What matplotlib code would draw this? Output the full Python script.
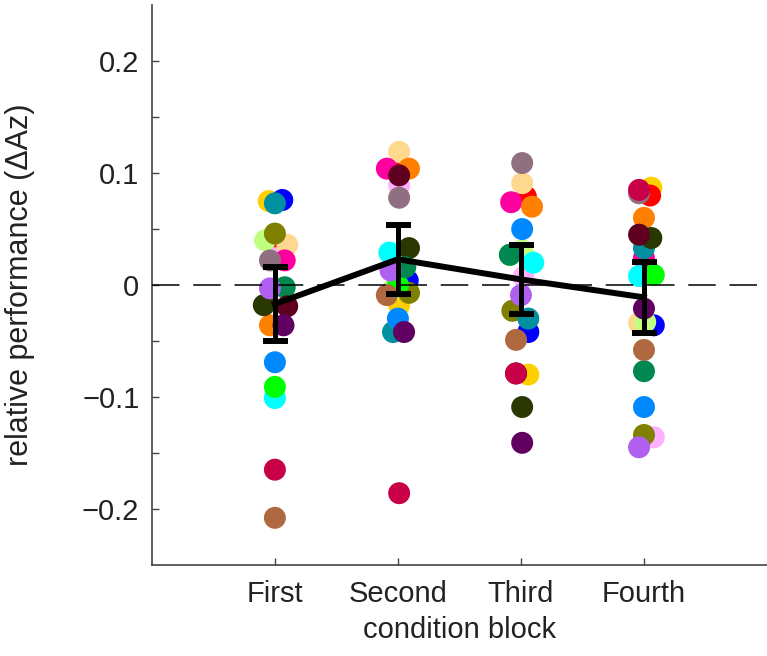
import numpy as np
import matplotlib
matplotlib.use('Agg')
import matplotlib.pyplot as plt

plt.rcParams['font.family'] = ['Liberation Sans', 'DejaVu Sans']

# subject colours (same subject = same colour in every block)
colors = ['#FFD000', '#0000FF', '#FF0000', '#FFB0FF', '#FFD890', '#C0FF80',
          '#808000', '#FF00A0', '#FF8000', '#0090A0', '#907080', '#00FFFF',
          '#283800', '#00FF00', '#008850', '#B060F0', '#600020', '#0088FF',
          '#C80048', '#B06840', '#600060']

blocks = ['First', 'Second', 'Third', 'Fourth']

# relative performance per subject, per block
b1 = [0.075, 0.076, 0.030, 0.024, 0.036, 0.040, 0.046, 0.022, -0.036, 0.073, 0.022,
      -0.101, -0.018, -0.091, -0.002, -0.003, -0.019, -0.069, -0.165, -0.208, -0.036]
b2 = [-0.018, 0.004, 0.100, 0.089, 0.119, -0.004, -0.007, 0.104, 0.104, -0.042, 0.078,
      0.029, 0.033, 0.000, 0.016, 0.013, 0.098, -0.030, -0.186, -0.009, -0.042]
b3 = [-0.080, -0.042, 0.079, 0.007, 0.091, 0.031, -0.023, 0.074, 0.070, -0.030, 0.109,
      0.020, -0.109, 0.027, 0.027, -0.009, -0.079, 0.050, -0.079, -0.049, -0.141]
b4 = [0.087, -0.036, 0.080, -0.136, -0.034, -0.033, -0.134, 0.024, 0.060, 0.033, 0.082,
      0.008, 0.042, 0.009, -0.077, -0.145, 0.045, -0.109, 0.085, -0.058, -0.021]

# horizontal jitter of the dots
j1 = [-.05, .06, .06, 0, .10, -.08, 0, .08, -.04, 0, -.04, 0, -.09, 0, .08, -.04, .10, 0, 0, 0, .07]
j2 = [.01, .08, .01, .01, .01, -.04, .09, -.09, .09, -.04, .01, -.07, .09, 0, .06, -.06, .01, 0, .01, -.09, .05]
j3 = [.06, .06, .04, .02, .01, .01, -.07, -.08, .09, .06, .01, .10, .01, -.09, -.09, 0, -.04, .01, -.04, -.04, .01]
j4 = [.06, .08, .05, .08, -.04, .01, 0, 0, 0, 0, -.04, -.04, .06, .08, 0, -.04, -.04, 0, -.04, 0, 0]

means = [-0.017, 0.023, 0.005, -0.011]
errs = [0.033, 0.031, 0.031, 0.032]

fig = plt.figure(figsize=(7.67, 6.56), dpi=100)
ax = fig.add_axes([0.198, 0.139, 0.802, 0.853])

pos = np.arange(1, 5)
for k, (vals, jit) in enumerate(zip([b1, b2, b3, b4], [j1, j2, j3, j4])):
    ax.scatter(pos[k] + np.array(jit), vals, s=250, c=colors, edgecolors='none', zorder=2)

ax.axhline(0, color='k', lw=1.1, dashes=(18, 9), zorder=3)
ax.errorbar(pos, means, yerr=errs, color='k', lw=4.3, elinewidth=3.6, capsize=9,
            capthick=4.3, zorder=4)

ax.set_xlim(0, 5)
ax.set_ylim(-0.25, 0.25)
ax.set_xticks(pos)
ax.set_xticklabels(blocks)
yt = np.round(np.arange(-0.2, 0.201, 0.05), 2)
ax.set_yticks(yt)
ax.set_yticklabels(['\u22120.2', '', '\u22120.1', '', '0', '', '0.1', '', '0.2'])
ax.tick_params(direction='in', length=5, width=1, colors='#444444', labelsize=21,
               labelcolor='#222222')
ax.tick_params(axis='y', pad=9)
ax.tick_params(axis='x', pad=11)

for s in ['top', 'right']:
    ax.spines[s].set_visible(False)
for s in ['left', 'bottom']:
    ax.spines[s].set_color('#444444')
    ax.spines[s].set_linewidth(1.2)

ax.set_ylabel('relative performance (\u0394Az)', fontsize=22, color='#222222')
ax.yaxis.set_label_coords(-0.19, 0.5)
ax.set_xlabel('condition block', fontsize=21, color='#222222', labelpad=6)

fig.savefig('out.png', dpi=100)
